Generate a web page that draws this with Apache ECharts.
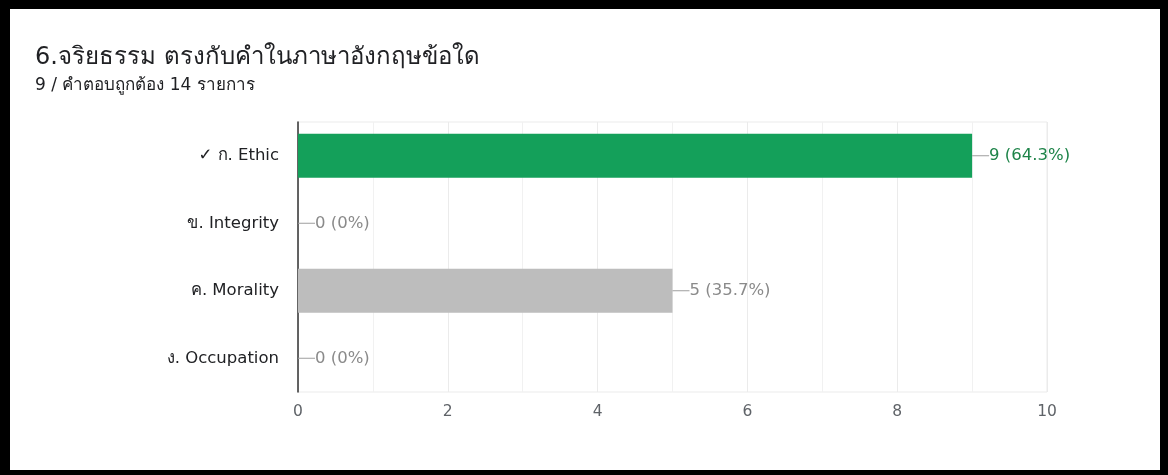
<!DOCTYPE html>
<html>
<head>
<meta charset="utf-8">
<script src="https://cdn.jsdelivr.net/npm/echarts@6/dist/echarts.min.js"></script>
<style>
html,body{margin:0;padding:0;background:#fff;}
#wrap{position:relative;width:1168px;height:475px;overflow:hidden;}
#chart{position:absolute;left:0;top:0;width:1168px;height:475px;}
#frame{position:absolute;left:0;top:0;width:1168px;height:475px;box-sizing:border-box;border-style:solid;border-color:#000;border-width:9px 8px 5px 10px;pointer-events:none;}
</style>
</head>
<body>
<div id="wrap"><div id="chart"></div><div id="frame"></div></div>
<script>
const titleText = '6.จริยธรรม ตรงกับคำในภาษาอังกฤษข้อใด';
const subtitleText = '9 / คำตอบถูกต้อง 14 รายการ';
const categories = ['✓ ก. Ethic', 'ข. Integrity', 'ค. Morality', 'ง. Occupation'];
const counts = [9, 0, 5, 0];
const percentLabels = ['64.3%', '0%', '35.7%', '0%'];
const isCorrect = [true, false, false, false];
const xTicks = [0, 2, 4, 6, 8, 10];

const FONT = '"DejaVu Sans", "Noto Sans", sans-serif';
const chart = echarts.init(document.getElementById('chart'), null, {renderer: 'canvas'});

const data = counts.map((v, i) => ({
  value: v,
  itemStyle: {color: isCorrect[i] ? '#14a05a' : '#bdbdbd'},
  label: {
    rich: {
      l: {width: 17, height: 1, backgroundColor: '#9e9e9e'},
      t: {color: isCorrect[i] ? '#1e8449' : '#8a8a8a', fontSize: 16.5, fontFamily: FONT}
    }
  }
}));

chart.setOption({
  animation: false,
  backgroundColor: '#fff',
  title: {
    text: titleText,
    subtext: subtitleText,
    left: 30,
    top: 41,
    itemGap: 7,
    textStyle: {fontSize: 24, fontWeight: 'normal', color: '#202124', fontFamily: FONT},
    subtextStyle: {fontSize: 17, color: '#202124', fontFamily: FONT}
  },
  grid: {left: 298, right: 121, top: 122, bottom: 83, containLabel: false, show: true, borderColor: '#ebebeb', borderWidth: 1},
  xAxis: {
    type: 'value',
    min: xTicks[0],
    max: xTicks[xTicks.length - 1],
    interval: 2,
    axisLine: {show: false},
    axisTick: {show: false},
    axisLabel: {color: '#5f6368', fontSize: 15.5, fontFamily: FONT, margin: 12},
    splitLine: {show: true, lineStyle: {color: '#ebebeb', width: 1}},
    minorTick: {show: false, splitNumber: 2},
    minorSplitLine: {show: true, lineStyle: {color: '#f1f1f1', width: 1}}
  },
  yAxis: {
    type: 'category',
    data: categories,
    inverse: true,
    axisLine: {show: true, lineStyle: {color: '#333', width: 1.5}},
    axisTick: {show: false},
    axisLabel: {color: '#202124', fontSize: 16.5, fontFamily: FONT, margin: 19}
  },
  series: [{
    type: 'bar',
    data: data,
    barCategoryGap: '35%',
    label: {
      show: true,
      position: 'right',
      distance: 0,
      formatter: function (p) {
        return '{l|}{t|' + p.value + ' (' + percentLabels[p.dataIndex] + ')}';
      }
    }
  }]
});
</script>
</body>
</html>
